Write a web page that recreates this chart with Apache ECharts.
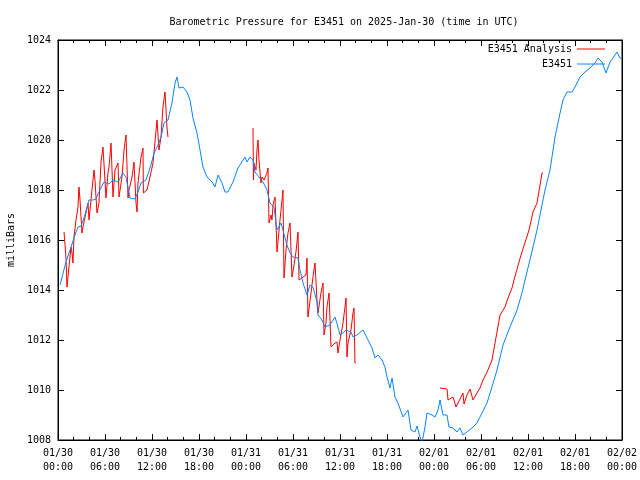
<!DOCTYPE html>
<html>
<head>
<meta charset="utf-8">
<script src="https://cdn.jsdelivr.net/npm/echarts@6/dist/echarts.min.js"></script>
<style>html,body{margin:0;padding:0;background:#fff;}#c{width:640px;height:480px;}</style>
</head>
<body>
<div id="c"></div>
<script>
var titleText = 'Barometric Pressure for E3451 on 2025-Jan-30 (time in UTC)';
var yTicks = [1008, 1010, 1012, 1014, 1016, 1018, 1020, 1022, 1024];
var xTickHours = [0, 6, 12, 18, 24, 30, 36, 42, 48, 54, 60, 66, 72];

// E3451 observed (hours since 01/30 00:00 UTC, millibars)
var obsHours = [0.26,1.02,1.66,2.30,2.55,2.94,3.32,3.96,4.47,4.85,5.23,5.87,6.51,7.02,7.66,8.30,8.68,8.94,9.19,9.83,10.21,10.60,11.23,11.87,12.26,12.77,13.15,13.53,14.04,14.55,14.94,15.19,15.45,15.96,16.47,16.85,17.23,17.74,18.13,18.51,19.02,19.66,20.04,20.43,20.94,21.32,21.70,22.34,22.98,23.87,24.13,24.51,24.89,25.15,25.66,25.91,26.17,26.68,27.06,27.57,27.96,28.47,29.23,29.62,30.00,30.64,30.89,31.28,31.79,32.17,32.55,33.06,33.19,33.70,34.09,34.72,35.36,35.74,36.00,36.38,36.77,37.40,37.66,38.17,38.94,39.45,40.09,40.47,40.85,41.36,41.74,42.00,42.38,42.64,43.02,43.40,44.04,44.68,45.06,45.57,45.83,46.21,46.47,46.85,47.11,47.74,48.13,48.51,48.77,49.15,49.66,49.91,50.43,50.94,51.32,51.70,52.21,52.85,53.49,53.87,54.77,55.40,56.04,56.81,57.70,58.60,59.23,59.62,60.40,61.15,62.17,62.81,63.45,64.09,64.47,64.98,65.62,66.00,66.64,67.28,67.91,68.55,68.94,69.45,69.96,70.47,70.85,71.36,71.74,72.00];
var obsValues = [1014.2,1015.12,1015.72,1016.32,1016.52,1016.56,1016.88,1017.6,1017.6,1017.64,1017.92,1018.32,1018.24,1018.4,1018.32,1018.68,1018.52,1018.08,1017.68,1017.64,1017.92,1018.28,1018.4,1019.0,1019.48,1019.8,1020.12,1020.68,1020.8,1021.48,1022.28,1022.52,1022.08,1022.12,1021.92,1021.6,1020.88,1020.28,1019.6,1018.92,1018.52,1018.32,1018.12,1018.6,1018.28,1017.92,1017.92,1018.32,1018.88,1019.32,1019.12,1019.32,1019.2,1018.72,1018.52,1018.6,1018.32,1018.0,1017.48,1017.32,1016.4,1016.68,1015.8,1015.48,1015.32,1015.28,1014.8,1014.28,1013.8,1014.2,1014.12,1013.52,1013.0,1012.8,1012.52,1012.6,1012.92,1012.52,1012.2,1012.28,1012.4,1012.32,1012.12,1012.2,1012.4,1012.08,1011.68,1011.28,1011.4,1011.2,1010.92,1010.52,1010.08,1010.48,1009.72,1009.48,1008.92,1009.2,1008.4,1008.32,1008.56,1008.12,1007.9,1008.52,1009.08,1009.0,1008.92,1009.2,1009.6,1009.0,1009.0,1008.52,1008.48,1008.32,1008.48,1008.2,1008.32,1008.48,1008.68,1008.92,1009.48,1010.12,1010.8,1011.8,1012.52,1013.2,1013.88,1014.4,1015.4,1016.4,1018.0,1018.8,1020.12,1021.08,1021.6,1021.92,1021.92,1022.12,1022.52,1022.72,1022.88,1023.08,1023.28,1023.12,1022.68,1023.12,1023.28,1023.52,1023.28,1023.28];

// E3451 Analysis (null = gap)
var anaHours = [0.77,1.02,1.15,1.40,1.66,1.79,1.91,2.04,2.30,2.55,2.68,2.81,3.06,3.19,3.45,3.83,3.96,4.34,4.60,4.72,4.98,5.23,5.49,5.74,5.87,6.13,6.38,6.51,6.77,7.02,7.28,7.66,7.79,8.17,8.43,8.68,8.94,9.06,9.45,9.70,9.96,10.09,10.21,10.60,10.85,10.90,11.36,11.74,12.13,12.38,12.64,12.89,13.15,13.40,13.66,13.91,14.04,
  19.0,
  24.89,24.95,25.02,25.28,25.40,25.53,25.66,25.91,26.04,26.30,26.68,26.81,26.94,27.19,27.32,27.45,27.70,27.96,28.34,28.60,28.72,28.85,29.11,29.36,29.62,29.87,30.13,30.38,30.64,30.77,31.28,31.66,31.79,31.91,32.30,32.55,32.81,33.06,33.19,33.57,33.83,33.96,34.21,34.34,34.60,34.85,35.36,35.62,35.74,36.00,36.38,36.64,36.77,36.89,37.02,37.40,37.66,37.79,37.91,38.04,
  43.0,
  48.77,49.66,49.79,50.43,50.81,51.06,51.45,51.70,51.83,52.21,52.60,52.98,53.49,53.87,54.26,54.77,55.15,55.40,55.79,56.04,56.43,57.06,57.45,57.96,58.21,59.11,60.13,60.64,61.15,61.79,61.91];
var anaValues = [1016.32,1015.28,1014.12,1014.92,1015.72,1015.48,1015.08,1016.12,1016.8,1017.32,1018.12,1017.6,1016.28,1016.52,1016.92,1017.48,1016.8,1018.0,1018.8,1018.4,1017.08,1017.48,1019.12,1019.72,1019.72,1017.68,1018.68,1018.92,1019.88,1017.72,1018.8,1019.08,1017.72,1018.52,1019.6,1020.2,1017.68,1018.0,1018.52,1019.12,1017.48,1017.12,1018.28,1019.32,1019.68,1017.88,1018.0,1018.52,1019.08,1019.92,1020.8,1019.6,1020.12,1021.32,1021.92,1020.52,1020.12,
  null,
  1020.48,1018.4,1019.08,1018.8,1019.6,1020.0,1019.2,1018.28,1018.52,1018.4,1018.68,1018.88,1016.68,1017.0,1016.8,1017.4,1017.72,1015.52,1016.8,1017.6,1018.0,1014.48,1015.6,1016.28,1016.68,1014.52,1015.0,1015.52,1016.32,1014.4,1014.52,1014.6,1015.28,1012.92,1013.88,1014.52,1015.08,1013.6,1013.08,1013.88,1014.28,1012.2,1012.68,1013.32,1013.88,1011.72,1011.88,1011.92,1011.48,1012.0,1012.68,1013.32,1013.68,1011.32,1011.88,1012.4,1013.08,1013.28,1011.08,1011.08,
  null,
  1010.08,1010.04,1009.6,1009.72,1009.32,1009.32,1009.72,1009.88,1009.44,1009.8,1010.04,1009.6,1009.88,1010.08,1010.4,1010.72,1011.0,1011.2,1011.88,1011.92,1013.0,1013.32,1013.68,1014.08,1014.4,1015.4,1016.4,1017.12,1017.48,1018.68,1018.68];

function pairs(xs, ys) { return xs.map(function (x, i) { return [x, ys[i]]; }); }
function fmtHour(h) {
  var day = 30 + Math.floor(h / 24);
  var hh = h % 24;
  var md = day > 31 ? '02/' + String(day - 31).padStart(2, '0') : '01/' + day;
  return md + '\n' + String(hh).padStart(2, '0') + ':00';
}

var FONT = 'DejaVu Sans Mono';
var chart = echarts.init(document.getElementById('c'), null, { renderer: 'canvas' });
chart.setOption({
  animation: false,
  backgroundColor: '#ffffff',
  title: {
    text: titleText, left: 339, top: 12, textAlign: 'center',
    textStyle: { fontFamily: FONT, fontSize: 10, fontWeight: 'normal', color: '#000' }
  },
  legend: {
    orient: 'vertical', right: 30, top: 38, align: 'right',
    itemWidth: 28, itemHeight: 1, itemGap: 3, icon: 'rect',
    textStyle: { fontFamily: FONT, fontSize: 10, color: '#000', lineHeight: 12 },
    data: ['E3451 Analysis', 'E3451']
  },
  grid: { left: 58, right: 18, top: 40, bottom: 40, containLabel: false, outerBoundsMode: 'none',
    show: true, borderColor: '#000', borderWidth: 1 },
  xAxis: [{
    type: 'value', min: 0, max: 72, interval: 6, position: 'bottom',
    axisLine: { show: true, onZero: false, lineStyle: { color: '#000', width: 1 } },
    axisTick: { show: true, inside: true, length: 6, lineStyle: { color: '#000' } },
    minorTick: { show: true, splitNumber: 3, length: 3, lineStyle: { color: '#000' } },
    splitLine: { show: false },
    axisLabel: {
      margin: 6, fontFamily: FONT, fontSize: 10, color: '#000', lineHeight: 14,
      formatter: function (v) { return fmtHour(v); }
    }
  }, {
    type: 'value', min: 0, max: 72, interval: 6, position: 'top',
    axisLine: { show: true, onZero: false, lineStyle: { color: '#000', width: 1 } },
    axisTick: { show: true, inside: true, length: 6, lineStyle: { color: '#000' } },
    minorTick: { show: true, splitNumber: 3, length: 3, lineStyle: { color: '#000' } },
    splitLine: { show: false }, axisLabel: { show: false }
  }],
  yAxis: [{
    type: 'value', min: 1008, max: 1024, interval: 2, position: 'left',
    name: 'milliBars', nameLocation: 'middle', nameGap: 42, nameRotate: 90,
    nameTextStyle: { fontFamily: FONT, fontSize: 10, color: '#000' },
    axisLine: { show: true, onZero: false, lineStyle: { color: '#000', width: 1 } },
    axisTick: { show: true, inside: true, length: 6, lineStyle: { color: '#000' } },
    splitLine: { show: false },
    axisLabel: { margin: 7, fontFamily: FONT, fontSize: 10, color: '#000',
      formatter: function (v) { return String(v); } }
  }, {
    type: 'value', min: 1008, max: 1024, interval: 2, position: 'right',
    axisLine: { show: true, onZero: false, lineStyle: { color: '#000', width: 1 } },
    axisTick: { show: true, inside: true, length: 6, lineStyle: { color: '#000' } },
    splitLine: { show: false }, axisLabel: { show: false }
  }],
  series: [{
    name: 'E3451 Analysis', type: 'line', xAxisIndex: 0, yAxisIndex: 0,
    data: pairs(anaHours, anaValues), showSymbol: false, symbol: 'none',
    connectNulls: false, clip: true,
    lineStyle: { color: '#ff0000', width: 1 }, itemStyle: { color: '#ff0000' }, z: 3
  }, {
    name: 'E3451', type: 'line', xAxisIndex: 0, yAxisIndex: 0,
    data: pairs(obsHours, obsValues), showSymbol: false, symbol: 'none', clip: true,
    lineStyle: { color: '#0a84ff', width: 1 }, itemStyle: { color: '#0a84ff' }, z: 4
  }]
});
</script>
</body>
</html>
